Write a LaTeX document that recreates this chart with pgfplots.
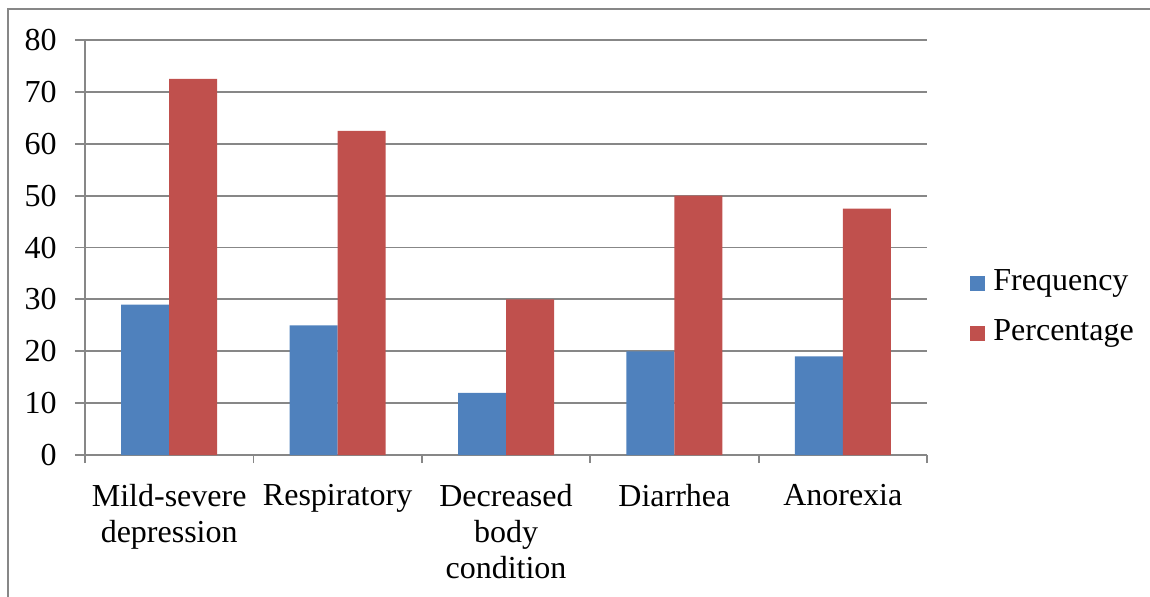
\documentclass[border=0pt]{standalone}
\usepackage{pgfplots}
\pgfplotsset{compat=1.18}
\usepackage{fontspec}
\setmainfont{Liberation Serif}
\definecolor{barblue}{HTML}{4F81BD}
\definecolor{barred}{HTML}{C0504D}
\definecolor{gridgrey}{HTML}{878787}
\begin{document}
\begin{tikzpicture}
\useasboundingbox (0,0) rectangle (575pt,-298pt);
\draw[gridgrey, line width=1pt] (4pt,-300pt) -- (4pt,-4.5pt) -- (580pt,-4.5pt);
\begin{axis}[
  at={(42.5pt,-227.5pt)}, anchor=south west,
  scale only axis, width=421pt, height=207.5pt,
  ybar=0pt, bar width=24pt,
  xmin=-0.5, xmax=4.5, ymin=0, ymax=80,
  ytick={0,10,...,80},
  xtick={0,1,2,3,4},
  xticklabels={{Mild-severe\\depression},{Respiratory},{Decreased\\body\\condition},{Diarrhea},{Anorexia}},
  minor xtick={-0.5,0.5,1.5,2.5,3.5,4.5},
  major x tick style={draw=none},
  minor tick length=4pt,
  major tick length=5pt,
  tick align=outside,
  axis lines*=left,
  axis line style={gridgrey, line width=0.9pt},
  every tick/.style={gridgrey, line width=0.9pt},
  ymajorgrids, major grid style={gridgrey, line width=0.9pt},
  /pgf/number format/assume math mode=true,
  tick label style={font=\fontsize{16}{18}\selectfont},
  yticklabel style={anchor=east, inner sep=0pt, xshift=-9pt},
  xticklabel style={anchor=north, inner sep=0pt, yshift=-9.5pt, align=center},
  legend style={at={(1,0.3614)}, anchor=west, xshift=21.5pt, yshift=-1.5pt, draw=none, fill=none,
    font=\fontsize{16}{18}\selectfont, inner sep=0pt,
    nodes={inner sep=0pt, text height=11pt, text depth=3.5pt},
    row sep=10.5pt, column sep=4pt},
  legend cell align=left,
  clip=false,
]
\addplot[fill=barblue, draw=none, legend image code/.code={\fill[barblue] (0pt,-3.75pt) rectangle (7.5pt,3.75pt);}]
  coordinates {(0,29) (1,25) (2,12) (3,20) (4,19)};
\addplot[fill=barred, draw=none, legend image code/.code={\fill[barred] (0pt,-3.75pt) rectangle (7.5pt,3.75pt);}]
  coordinates {(0,72.5) (1,62.5) (2,30) (3,50) (4,47.5)};
\legend{Frequency, Percentage}
\end{axis}
\end{tikzpicture}
\end{document}
